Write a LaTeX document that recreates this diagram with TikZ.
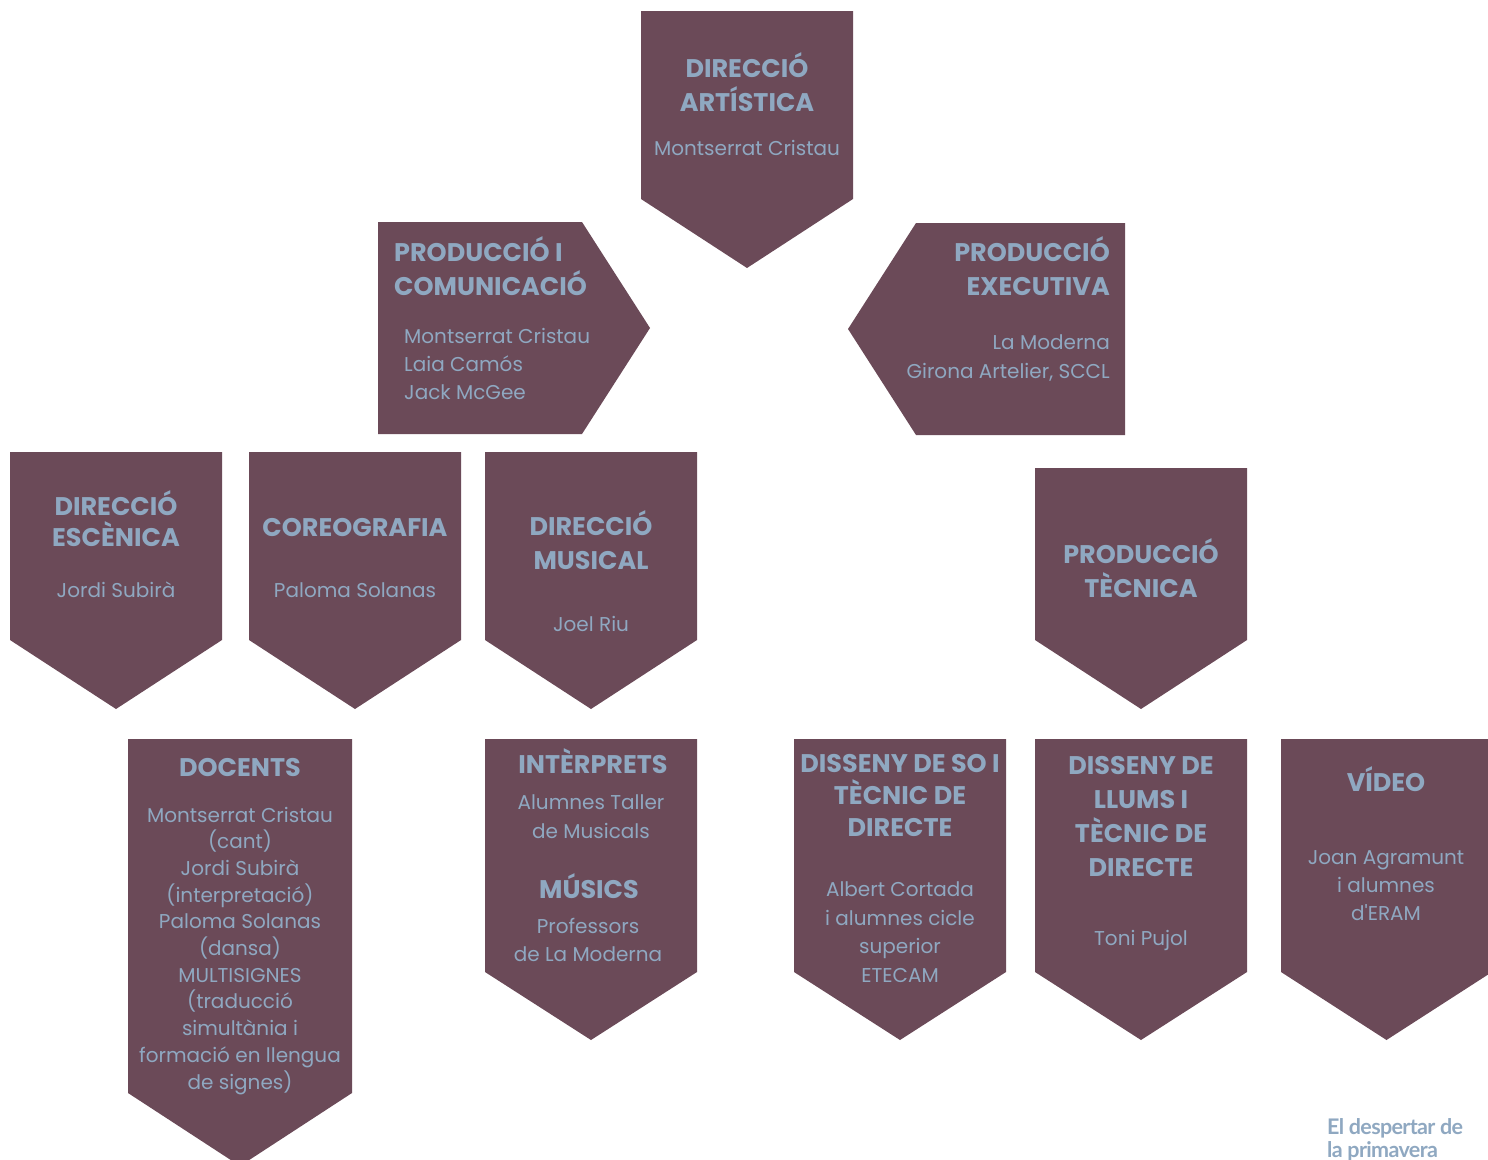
\documentclass[tikz,border=0pt]{standalone}
\usepackage{fontspec}
\setmainfont{Poppins}[Ligatures=TeXOff]
\newfontfamily\footfont[LetterSpace=-3]{Lato}
\definecolor{boxfill}{HTML}{6B4A58}
\definecolor{txt}{HTML}{8FA8C1}
\newcommand\shield[6]{\fill[boxfill] (#2,#3) -- (#4,#3) -- (#4,#5) -- ({(#2+#4)/2},#6) -- (#2,#5) -- cycle;
  \coordinate (#1) at ({(#2+#4)/2},#3);}
\tikzset{
  head/.style={font=\fontsize{25.5}{34}\selectfont\bfseries, text=txt, align=center, anchor=base, inner sep=0pt},
  body/.style={font=\fontsize{20}{28}\selectfont, text=txt, align=center, anchor=base, inner sep=0pt},
}
\begin{document}
\begin{tikzpicture}[x=1pt,y=-1pt]
\useasboundingbox (0,0) rectangle (1488,1159);
\clip (0,0) rectangle (1488,1159);
% shapes
\shield{sA}{641}{11}{853}{199}{268}
\fill[boxfill] (378,222) -- (582,222) -- (650,328) -- (582,434) -- (378,434) -- cycle;
\coordinate (sPC) at (378,222);
\fill[boxfill] (916,223) -- (1125,223) -- (1125,435) -- (916,435) -- (848,329) -- cycle;
\coordinate (sPE) at (1125,223);
\shield{sDE}{10}{452}{222}{640}{709}
\shield{sCO}{249}{452}{461}{640}{709}
\shield{sDM}{485}{452}{697}{640}{709}
\shield{sPT}{1035}{468}{1247}{640}{709}
\shield{sDO}{128}{739}{352}{1093}{1166}
\shield{sIN}{485}{739}{697}{972}{1040}
\shield{sSO}{794}{739}{1006}{972}{1040}
\shield{sLL}{1035}{739}{1247}{972}{1040}
\shield{sVI}{1281}{739}{1492}{972}{1040}
% texts (multi-line nodes: base = baseline of the last line)
\node[head] (hA) at (747,111) {DIRECCIÓ\\ARTÍSTICA};
\node[body] (bA) at (747,155) {Montserrat Cristau};

\node[head, align=left, anchor=base west] (hPC) at (394,295) {PRODUCCIÓ I\\COMUNICACIÓ};
\node[body, align=left, anchor=base west] (bPC) at (404,399) {Montserrat Cristau\\Laia Camós\\Jack McGee};

\node[head, align=right, anchor=base east] (hPE) at (1110,295) {PRODUCCIÓ\\EXECUTIVA};
\node[body, font=\fontsize{20}{29}\selectfont, align=right, anchor=base east] (bPE) at (1110,378) {La Moderna\\Girona Artelier, SCCL};

\node[head, font=\fontsize{25.5}{31}\selectfont\bfseries] (hDE) at (116,546) {DIRECCIÓ\\ESCÈNICA};
\node[body] (bDE) at (116,597) {Jordi Subirà};

\node[head] (hCO) at (355,536) {COREOGRAFIA};
\node[body] (bCO) at (355,597) {Paloma Solanas};

\node[head] (hDM) at (591,569) {DIRECCIÓ\\MUSICAL};
\node[body] (bDM) at (591,631) {Joel Riu};

\node[head] (hPT) at (1141,597) {PRODUCCIÓ\\TÈCNICA};

\node[head] (hDO) at (240,776) {DOCENTS};
\node[body, font=\fontsize{20}{26.7}\selectfont] (bDO) at (240,1089) {Montserrat Cristau\\(cant)\\Jordi Subirà\\(interpretació)\\Paloma Solanas\\(dansa)\\MULTISIGNES\\(traducció\\simultània i\\formació en llengua\\de signes)};

\node[head] (hIN) at (593,773) {INTÈRPRETS};
\node[body, font=\fontsize{20}{29}\selectfont] (bIN) at (591,838) {Alumnes Taller\\de Musicals};
\node[head] (hMU) at (589,898) {MÚSICS};
\node[body] (bMU) at (588,961) {Professors\\de La Moderna};

\node[head, font=\fontsize{25.5}{32}\selectfont\bfseries] (hSO) at (900,836) {DISSENY DE SO I\\TÈCNIC DE\\DIRECTE};
\node[body, font=\fontsize{20}{28.5}\selectfont] (bSO) at (900,982) {Albert Cortada\\i alumnes cicle\\superior\\ETECAM};

\node[head] (hLL) at (1141,876) {DISSENY DE\\LLUMS I\\TÈCNIC DE\\DIRECTE};
\node[body] (bLL) at (1141,945) {Toni Pujol};

\node[head] (hVI) at (1386,791) {VÍDEO};
\node[body] (bVI) at (1386,920) {Joan Agramunt\\i alumnes\\d'ERAM};

\node[font=\fontsize{21.5}{23}\selectfont\footfont\bfseries, text=txt, align=left, anchor=base west, inner sep=0pt] (foot) at (1327,1157) {El despertar de\\la primavera};
\end{tikzpicture}
\end{document}
